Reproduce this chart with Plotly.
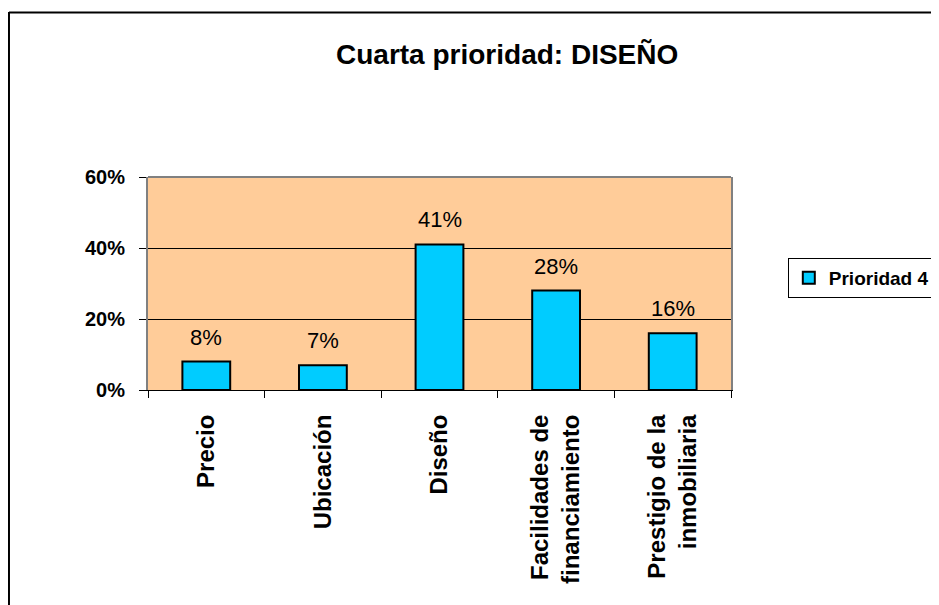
import plotly.graph_objects as go

categories = ["Precio", "Ubicación", "Diseño", "Facilidades de<br>financiamiento", "Prestigio de la<br>inmobiliaria"]
values = [8, 7, 41, 28, 16]
labels = ["8%", "7%", "41%", "28%", "16%"]
series_name = "Prioridad 4"
title_text = "Cuarta prioridad: DISEÑO"
y_ticks = [0, 20, 40, 60]
y_ticklabels = ["0%", "20%", "40%", "60%"]

FONT = "Liberation Sans, Arial, sans-serif"

W, H = 939, 605
OFF = 8  # page body margin
# plot area in screen pixels: x 148..733, y 177..390
L, T = 148 - OFF, 177 - OFF
R, B = W - (733 - OFF), H - (390 - OFF)
pw, ph = W - L - R, H - T - B

def px_x(x):
    return (x - OFF - L) / pw

def px_y(y):
    return 1 - (y - OFF - T) / ph

fig = go.Figure()
fig.add_trace(go.Bar(
    x=categories, y=values, name=series_name,
    marker=dict(color="#00CCFF", line=dict(color="black", width=2)),
    showlegend=True,
))

annotations = []
for c, v, t in zip(categories, values, labels):
    annotations.append(dict(
        x=c, y=v, xref="x", yref="y", text=t, showarrow=False,
        yanchor="bottom", yshift=10,
        font=dict(family=FONT, size=22, color="black"),
    ))

annotations.append(dict(
    x=px_x(508), y=px_y(55), xref="paper", yref="paper", text="<b>" + title_text + "</b>",
    showarrow=False, xanchor="center", yanchor="middle",
    font=dict(family=FONT, size=28, color="black"),
))

shapes = [
    # outer frame (left and top; right/bottom extend beyond the picture)
    dict(type="line", xref="paper", yref="paper", x0=px_x(8.5), x1=px_x(8.5),
         y0=px_y(640), y1=px_y(12), line=dict(color="black", width=2)),
    dict(type="line", xref="paper", yref="paper", x0=px_x(8.5), x1=px_x(980),
         y0=px_y(12.5), y1=px_y(12.5), line=dict(color="black", width=2)),
    # plot-area top border
    dict(type="line", xref="paper", yref="paper", x0=0, x1=1, y0=1, y1=1,
         line=dict(color="#808080", width=2)),
]

fig.update_layout(
    width=W, height=H,
    margin=dict(l=L, r=R, t=T, b=B, pad=0),
    paper_bgcolor="white",
    plot_bgcolor="#FFCC99",
    bargap=0.59,
    annotations=annotations,
    shapes=shapes,
    font=dict(family=FONT, color="black"),
    legend=dict(
        x=px_x(790), y=px_y(258), xanchor="left", yanchor="top",
        bordercolor="black", borderwidth=1, bgcolor="white",
        font=dict(family=FONT, size=19, color="black", weight="bold"),
        itemwidth=30, tracegroupgap=0,
    ),
    showlegend=True,
)

fig.update_xaxes(
    showgrid=False, showline=True, linecolor="black", linewidth=1,
    ticks="outside", tickson="boundaries", ticklen=7, tickcolor="black",
    tickangle=-90, ticklabelstandoff=14,
    tickfont=dict(family=FONT, size=24, color="black", weight="bold"),
    fixedrange=True,
)
fig.update_yaxes(
    range=[0, 60], tickvals=y_ticks, ticktext=y_ticklabels,
    showgrid=True, gridcolor="black", gridwidth=1,
    showline=True, linecolor="#808080", linewidth=2, mirror=True,
    ticks="outside", ticklen=7, tickcolor="black",
    ticklabelstandoff=10,
    tickfont=dict(family=FONT, size=20, color="black", weight="bold"),
    zeroline=False, fixedrange=True,
)

fig.write_html("out.html")
